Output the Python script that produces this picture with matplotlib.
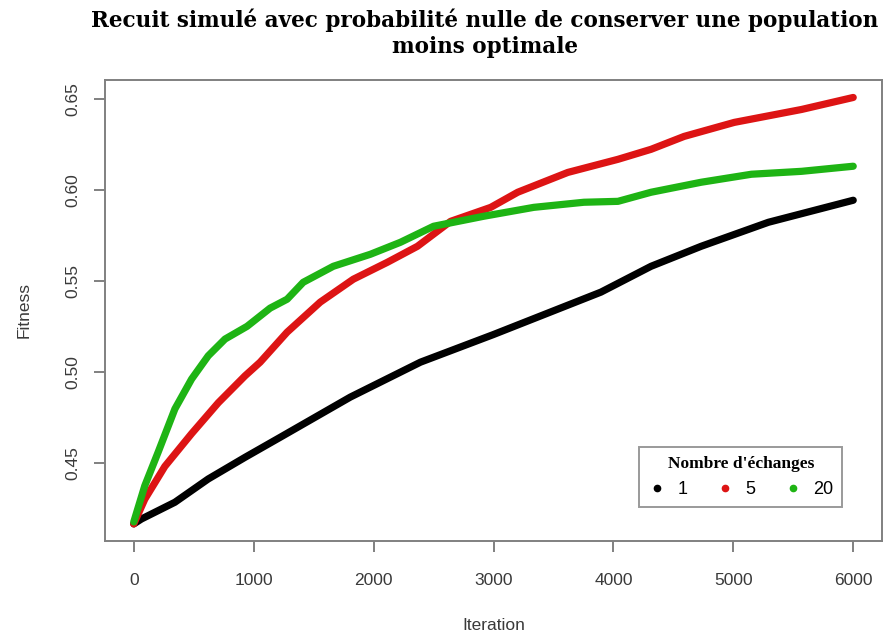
import matplotlib
matplotlib.use("Agg")
import matplotlib.pyplot as plt
from matplotlib.lines import Line2D

# ---- data ----
iter_1 = [0, 64, 343, 621, 928, 1221, 1806, 2391, 3000, 3896, 4314, 4732, 5293, 6000]
fit_1 = [0.4164, 0.4191, 0.4283, 0.4411, 0.4530, 0.4640, 0.4861, 0.5053, 0.5205,
         0.5438, 0.5580, 0.5690, 0.5822, 0.5943]

iter_5 = [0, 92, 259, 482, 705, 928, 1054, 1279, 1555, 1831, 2115, 2366, 2642, 2977,
          3202, 3620, 4038, 4314, 4590, 5008, 5569, 6000]
fit_5 = [0.4164, 0.4300, 0.4480, 0.4660, 0.4830, 0.4978, 0.5053, 0.5218, 0.5383,
         0.5509, 0.5602, 0.5690, 0.5827, 0.5904, 0.5987, 0.6096, 0.6168, 0.6223,
         0.6294, 0.6371, 0.6442, 0.6508]

iter_20 = [0, 92, 203, 343, 482, 621, 761, 945, 1137, 1279, 1413, 1664, 1973, 2224,
           2500, 2918, 3336, 3754, 4038, 4314, 4732, 5151, 5569, 6000]
fit_20 = [0.4175, 0.4374, 0.4558, 0.4796, 0.4960, 0.5088, 0.5180, 0.5250, 0.5350,
          0.5399, 0.5492, 0.5580, 0.5646, 0.5712, 0.5800, 0.5855, 0.5904, 0.5932,
          0.5937, 0.5987, 0.6042, 0.6086, 0.6102, 0.6130]

series_labels = ["1", "5", "20"]
series_colors = ["#000000", "#dd1414", "#1eb414"]
x_ticks = [0, 1000, 2000, 3000, 4000, 5000, 6000]
y_ticks = [0.45, 0.50, 0.55, 0.60, 0.65]
y_tick_labels = ["0.45", "0.50", "0.55", "0.60", "0.65"]

title_line1 = "Recuit simulé avec probabilité nulle de conserver une population"
title_line2 = "moins optimale"
legend_title = "Nombre d'échanges"

# ---- figure ----
W, H = 886, 639
fig = plt.figure(figsize=(W / 100, H / 100), dpi=100)
left, right, top, bottom = 105, 882, 80, 541
ax = fig.add_axes([left / W, 1 - bottom / H, (right - left) / W, (bottom - top) / H])

for xs, ys, c in zip([iter_1, iter_5, iter_20], [fit_1, fit_5, fit_20], series_colors):
    ax.plot(xs, ys, color=c, lw=5.2, solid_capstyle="round", solid_joinstyle="round")

ax.set_xlim(-240, 6240)
ax.set_ylim(0.4070, 0.6604)

axis_gray = "#808080"
for sp in ax.spines.values():
    sp.set_color(axis_gray)
    sp.set_linewidth(1.4)

ax.set_xticks(x_ticks)
ax.set_xticklabels([str(t) for t in x_ticks])
ax.set_yticks(y_ticks)
ax.set_yticklabels(y_tick_labels, rotation=90, va="center")
ax.tick_params(axis="both", direction="out", length=8, width=1.4, color=axis_gray,
               labelcolor="#3a3a3a", labelsize=12.5)
ax.tick_params(axis="x", pad=15)
ax.tick_params(axis="y", pad=10)
for lab in ax.get_xticklabels() + ax.get_yticklabels():
    lab.set_family("Liberation Sans")

ax.set_xlabel("Iteration", fontsize=12.5, color="#3a3a3a", family="Liberation Sans", labelpad=22)
ax.set_ylabel("Fitness", fontsize=12.5, color="#3a3a3a", family="Liberation Sans", labelpad=24)

title_kw = dict(ha="center", va="center", fontsize=15.5, fontweight="bold",
                family="DejaVu Serif")
fig.text(485 / W, 1 - 20 / H, title_line1, **title_kw)
fig.text(485 / W, 1 - 47 / H, title_line2, **title_kw)

handles = [Line2D([], [], ls="none", marker="o", markersize=4.5, color=c) for c in series_colors]
leg = ax.legend(handles, series_labels, ncol=3, loc="lower right",
                bbox_to_anchor=((842 - left) / (right - left), (bottom - 507) / (bottom - top)),
                borderaxespad=0, frameon=True, fancybox=False, handlelength=1.0,
                handletextpad=0.6, columnspacing=1.6, borderpad=0.5,
                prop={"family": "Liberation Sans", "size": 13})
leg.set_title(legend_title, prop={"family": "Liberation Serif", "weight": "bold", "size": 12.5})
leg.get_frame().set_edgecolor(axis_gray)
leg.get_frame().set_linewidth(1.4)

fig.savefig("out.png", dpi=100, facecolor="white")
